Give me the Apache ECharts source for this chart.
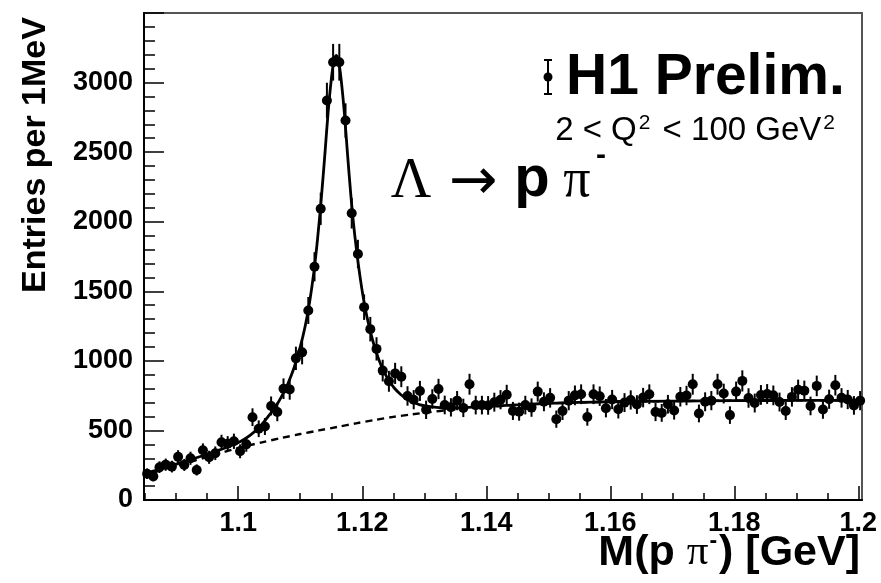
<!DOCTYPE html>
<html>
<head>
<meta charset="utf-8">
<title>Lambda to p pi- invariant mass</title>
<script src="https://cdn.jsdelivr.net/npm/echarts@6/dist/echarts.min.js"></script>
<style>
  html, body { margin: 0; padding: 0; background: #fff; }
  #chart { width: 881px; height: 583px; }
</style>
</head>
<body>
<div id="chart"></div>
<script>
// Histogram binning: 1 MeV bins over the M(p pi-) window
const massLow = 1.0848;
const massHigh = 1.2006;
const binWidth = 0.001;

// Entries per bin (116 bins)
const entries = [
  189, 170, 236, 254, 240, 310, 252, 300, 216, 357,
  307, 336, 415, 405, 422, 350, 400, 595, 512, 528,
  676, 632, 800, 795, 1018, 1061, 1362, 1676, 2093, 2871,
  3146, 3146, 2727, 2061, 1768, 1386, 1228, 1086, 930, 853,
  910, 886, 748, 721, 784, 648, 726, 798, 683, 666,
  714, 662, 832, 682, 682, 680, 703, 721, 757, 640,
  635, 682, 664, 779, 706, 734, 581, 640, 714, 752,
  760, 597, 760, 746, 660, 722, 652, 700, 719, 686,
  736, 760, 632, 626, 688, 643, 742, 751, 832, 622,
  706, 714, 832, 765, 610, 779, 856, 733, 697, 755,
  762, 752, 704, 640, 741, 792, 786, 676, 820, 650,
  724, 825, 734, 722, 680, 714
];

// Statistical uncertainty of each bin
const errors = [
  38, 36, 42, 44, 42, 48, 43, 47, 40, 50,
  47, 49, 54, 54, 55, 50, 53, 64, 60, 61,
  68, 66, 74, 74, 84, 86, 97, 105, 116, 128,
  132, 132, 124, 110, 102, 92, 88, 84, 78, 75,
  76, 75, 70, 69, 72, 66, 70, 73, 67, 66,
  69, 66, 75, 67, 67, 67, 68, 69, 71, 65,
  65, 67, 66, 72, 68, 70, 62, 65, 69, 71,
  71, 63, 71, 70, 66, 69, 66, 68, 69, 67,
  70, 71, 65, 64, 67, 65, 70, 70, 75, 64,
  68, 69, 75, 71, 63, 72, 76, 70, 68, 71,
  71, 71, 68, 65, 70, 73, 72, 67, 74, 66,
  69, 74, 70, 69, 67, 69
];

// Fit result: signal + background (mass in GeV, entries)
const fitMass = [
  1.0848, 1.0870, 1.0890, 1.0910, 1.0930, 1.0950, 1.0970, 1.0990, 1.1005, 1.1020,
  1.1035, 1.1050, 1.1060, 1.1070, 1.1080, 1.1090, 1.1100, 1.1108, 1.1115, 1.1122,
  1.1128, 1.1134, 1.1140, 1.1145, 1.1150, 1.1154, 1.1158, 1.1162, 1.1166, 1.1171,
  1.1176, 1.1182, 1.1188, 1.1195, 1.1203, 1.1212, 1.1222, 1.1232, 1.1242, 1.1252,
  1.1262, 1.1272, 1.1282, 1.1292, 1.1305, 1.1320, 1.1340, 1.1360, 1.1400, 1.1450,
  1.1500, 1.1550, 1.1600, 1.1700, 1.1800, 1.1900, 1.2006
];
const fitTotal = [
  188, 216, 244, 272, 300, 329, 360, 393, 424, 468,
  528, 610, 670, 745, 835, 950, 1100, 1250, 1420, 1640,
  1880, 2170, 2500, 2790, 3020, 3150, 3195, 3150, 3020, 2790,
  2500, 2170, 1900, 1650, 1420, 1230, 1070, 950, 865, 803,
  758, 725, 702, 686, 674, 666, 662, 664, 672, 684,
  694, 701, 706, 711, 714, 716, 717
];

// Fit result: background component only
const bgMass = [
  1.0848, 1.0870, 1.0890, 1.0910, 1.0930, 1.0950, 1.0970, 1.0990, 1.1010, 1.1040,
  1.1070, 1.1100, 1.1130, 1.1160, 1.1190, 1.1220, 1.1250, 1.1280, 1.1310, 1.1340,
  1.1370, 1.1400, 1.1450, 1.1500, 1.1550, 1.1600, 1.1700, 1.1800, 1.1900, 1.2006
];
const bgValues = [
  178, 206, 232, 258, 284, 310, 336, 362, 385, 416,
  446, 474, 500, 525, 551, 575, 597, 615, 632, 647,
  659, 668, 683, 694, 701, 706, 711, 714, 716, 717
];

// Axis ticks
const xMajorTicks = [1.1, 1.12, 1.14, 1.16, 1.18, 1.2];
const xMinorTicks = [
  1.085, 1.09, 1.095, 1.1, 1.105, 1.11, 1.115, 1.12, 1.125, 1.13, 1.135, 1.14,
  1.145, 1.15, 1.155, 1.16, 1.165, 1.17, 1.175, 1.18, 1.185, 1.19, 1.195, 1.2
];

const binCenters = entries.map((_, i) => +(massLow + binWidth * (i + 0.5)).toFixed(5));
const pointData = entries.map((v, i) => [binCenters[i], v]);
const errorData = entries.map((v, i) => [binCenters[i], v - errors[i], v + errors[i]]);
const totalData = fitMass.map((m, i) => [m, fitTotal[i]]);
const bgData = bgMass.map((m, i) => [m, bgValues[i]]);

const SANS = '"Liberation Sans", Arial, Helvetica, sans-serif';
const SERIF = '"Liberation Serif", "Times New Roman", serif';

const chart = echarts.init(document.getElementById('chart'), null, { renderer: 'canvas' });

const option = {
  animation: false,
  backgroundColor: '#fff',
  grid: {
    left: 144, right: 19, top: 13, bottom: 83,
    containLabel: false,
    show: true,
    borderColor: '#555',
    borderWidth: 2,
    backgroundColor: 'transparent'
  },
  xAxis: [
    {
      type: 'value', min: massLow, max: massHigh,
      axisLine: { show: true, onZero: false, lineStyle: { color: '#000', width: 2 } },
      axisTick: { show: true, inside: true, length: 14, customValues: xMajorTicks,
                  lineStyle: { color: '#000', width: 1.5 } },
      axisLabel: {
        show: true, customValues: xMajorTicks, margin: 10,
        color: '#000', fontFamily: SANS, fontWeight: 'bold', fontSize: 27,
        formatter: v => String(parseFloat(v.toFixed(3)))
      },
      splitLine: { show: false }
    },
    {
      type: 'value', min: massLow, max: massHigh, position: 'bottom',
      axisLine: { show: false },
      axisTick: { show: true, inside: true, length: 7, customValues: xMinorTicks,
                  lineStyle: { color: '#000', width: 1.5 } },
      axisLabel: { show: false },
      splitLine: { show: false }
    }
  ],
  yAxis: {
    type: 'value', min: 0, max: 3500, interval: 500,
    axisLine: { show: true, onZero: false, lineStyle: { color: '#000', width: 2 } },
    axisTick: { show: true, inside: true, length: 20, lineStyle: { color: '#000', width: 1.5 } },
    minorTick: { show: true, splitNumber: 5, length: 11, lineStyle: { color: '#000', width: 1.5 } },
    axisLabel: {
      margin: 11, color: '#000', fontFamily: SANS, fontWeight: 'bold', fontSize: 27,
      formatter: v => (v >= 3500 ? '' : String(v))
    },
    splitLine: { show: false },
    minorSplitLine: { show: false }
  },
  series: [
    {
      name: 'background', type: 'line', data: bgData, xAxisIndex: 0,
      showSymbol: false, smooth: 0.3, z: 2,
      lineStyle: { color: '#000', width: 2.4, type: [7, 5] }
    },
    {
      name: 'fit', type: 'line', data: totalData, xAxisIndex: 0,
      showSymbol: false, smooth: 0.3, z: 3,
      lineStyle: { color: '#000', width: 2.8 }
    },
    {
      name: 'errors', type: 'custom', data: errorData, xAxisIndex: 0, z: 4,
      encode: { x: 0, y: [1, 2] },
      renderItem: (params, api) => {
        const x = api.value(0);
        const lo = api.coord([x, api.value(1)]);
        const hi = api.coord([x, api.value(2)]);
        return {
          type: 'line',
          shape: { x1: lo[0], y1: lo[1], x2: hi[0], y2: hi[1] },
          style: { stroke: '#000', lineWidth: 2 }
        };
      }
    },
    {
      name: 'data', type: 'scatter', data: pointData, xAxisIndex: 0, z: 5,
      symbol: 'circle', symbolSize: 10,
      itemStyle: { color: '#000', opacity: 1 }
    }
  ],
  graphic: [
    // legend entry: data point with error bar
    {
      type: 'group', x: 548, y: 77, children: [
        { type: 'line', shape: { x1: 0, y1: -17, x2: 0, y2: 17 }, style: { stroke: '#000', lineWidth: 2 } },
        { type: 'line', shape: { x1: -4, y1: -17, x2: 4, y2: -17 }, style: { stroke: '#000', lineWidth: 2 } },
        { type: 'line', shape: { x1: -4, y1: 17, x2: 4, y2: 17 }, style: { stroke: '#000', lineWidth: 2 } },
        { type: 'circle', shape: { cx: 0, cy: 0, r: 4.5 }, style: { fill: '#000' } }
      ]
    },
    {
      type: 'text', x: 566, y: 78,
      style: { text: 'H1 Prelim.', font: 'bold 57px ' + SANS, fill: '#000', align: 'left', verticalAlign: 'middle' }
    },
    {
      type: 'text', x: 838, y: 131,
      style: {
        text: '{n|2 < Q}{s|2}{n| < 100 GeV}{s|2}',
        align: 'right', verticalAlign: 'middle', fill: '#000',
        rich: {
          n: { font: '33px ' + SANS, fill: '#000', lineHeight: 36 },
          s: { font: '21px ' + SANS, fill: '#000', lineHeight: 36, verticalAlign: 'top', padding: [0, 3, 0, 2] }
        }
      }
    },
    // decay channel label
    {
      type: 'text', x: 411, y: 182,
      style: { text: 'Λ', font: '56px ' + SERIF, fill: '#000', align: 'center', verticalAlign: 'middle' }
    },
    {
      type: 'text', x: 473, y: 184,
      style: { text: '→', font: '58px "DejaVu Sans", sans-serif', fill: '#000', align: 'center', verticalAlign: 'middle' }
    },
    {
      type: 'text', x: 532, y: 180,
      style: { text: 'p', font: 'bold 58px ' + SANS, fill: '#000', align: 'center', verticalAlign: 'middle' }
    },
    {
      type: 'text', x: 577, y: 182,
      style: { text: 'π', font: '54px ' + SERIF, fill: '#000', align: 'center', verticalAlign: 'middle' }
    },
    {
      type: 'text', x: 601, y: 156,
      style: { text: '-', font: 'bold 30px ' + SANS, fill: '#000', align: 'center', verticalAlign: 'middle' }
    },
    // axis titles
    {
      type: 'text', x: 36, y: 155, rotation: Math.PI / 2,
      style: { text: 'Entries per 1MeV', font: 'bold 34px ' + SANS, fill: '#000', align: 'center', verticalAlign: 'middle' }
    },
    {
      type: 'text', x: 860, y: 553,
      style: {
        text: '{a|M(p }{b|π}{c|-}{a|) [GeV]}',
        align: 'right', verticalAlign: 'middle', fill: '#000',
        rich: {
          a: { font: 'bold 43px ' + SANS, fill: '#000', lineHeight: 46 },
          b: { font: '43px ' + SERIF, fill: '#000', lineHeight: 46 },
          c: { font: 'bold 23px ' + SANS, fill: '#000', verticalAlign: 'top', lineHeight: 46, padding: [0, 2, 0, 1] }
        }
      }
    }
  ]
};

chart.setOption(option);
</script>
</body>
</html>
